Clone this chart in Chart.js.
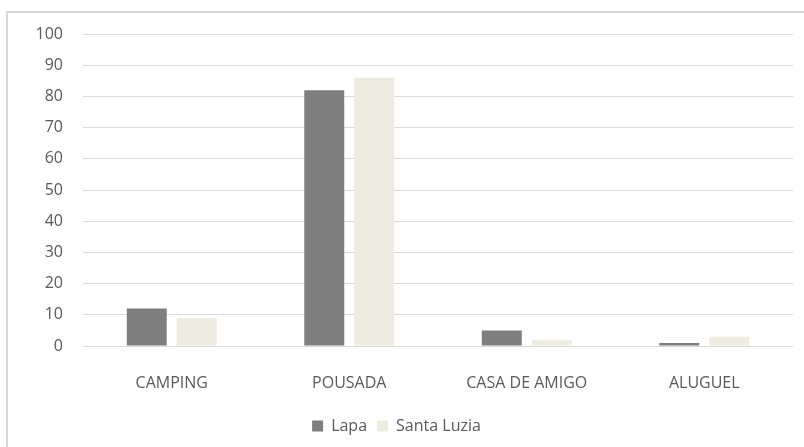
<!DOCTYPE html>
<html lang="pt">
<head>
  <meta charset="UTF-8" />
  <title>Hospedagem - Lapa e Santa Luzia</title>
  <script src="https://cdn.jsdelivr.net/npm/chart.js"></script>
  <style>
    * { box-sizing: border-box; }
    body { margin: 0; background: #fff; overflow: hidden; }
    .frame {
      position: absolute;
      left: 6px; top: 11px;
      width: 830px; height: 470px;
      border: 2px solid #d9d9d9;
    }
    #wrap {
      position: absolute;
      left: 0; top: 0;
      width: 804px; height: 447px;
    }
  </style>
</head>
<body>
  <div class="frame"></div>
  <div id="wrap"><canvas id="chart"></canvas></div>

  <script>
    const categories = ['CAMPING', 'POUSADA', 'CASA DE AMIGO', 'ALUGUEL'];
    const lapa = [12, 82, 5, 1];
    const santaLuzia = [9, 86, 2, 3];

    const txt = '#595959';
    const font = { family: "'Open Sans', sans-serif", size: 16 };

    new Chart(document.getElementById('chart'), {
      type: 'bar',
      data: {
        labels: categories,
        datasets: [
          { label: 'Lapa', data: lapa, backgroundColor: '#7f7f7f', borderWidth: 0 },
          { label: 'Santa Luzia', data: santaLuzia, backgroundColor: '#eeece1', borderWidth: 0 }
        ]
      },
      options: {
        responsive: true,
        maintainAspectRatio: false,
        animation: false,
        datasets: { bar: { categoryPercentage: 0.563, barPercentage: 0.8 } },
        layout: { padding: { top: 34, right: 11, bottom: 3, left: 0 } },
        plugins: {
          tooltip: { enabled: false },
          legend: {
            position: 'bottom',
            labels: { color: txt, font: font, boxWidth: 11, boxHeight: 11, padding: 10 }
          }
        },
        scales: {
          x: {
            grid: { display: false },
            border: { display: false },
            ticks: { color: txt, font: font, padding: 20 },
            afterFit: s => { s.height = 62; }
          },
          y: {
            min: 0,
            max: 100,
            ticks: { stepSize: 10, color: txt, font: font, padding: 20 },
            grid: { color: '#d9d9d9', drawTicks: false },
            border: { display: false },
            afterFit: s => { s.width = 83; }
          }
        }
      }
    });
  </script>
</body>
</html>
